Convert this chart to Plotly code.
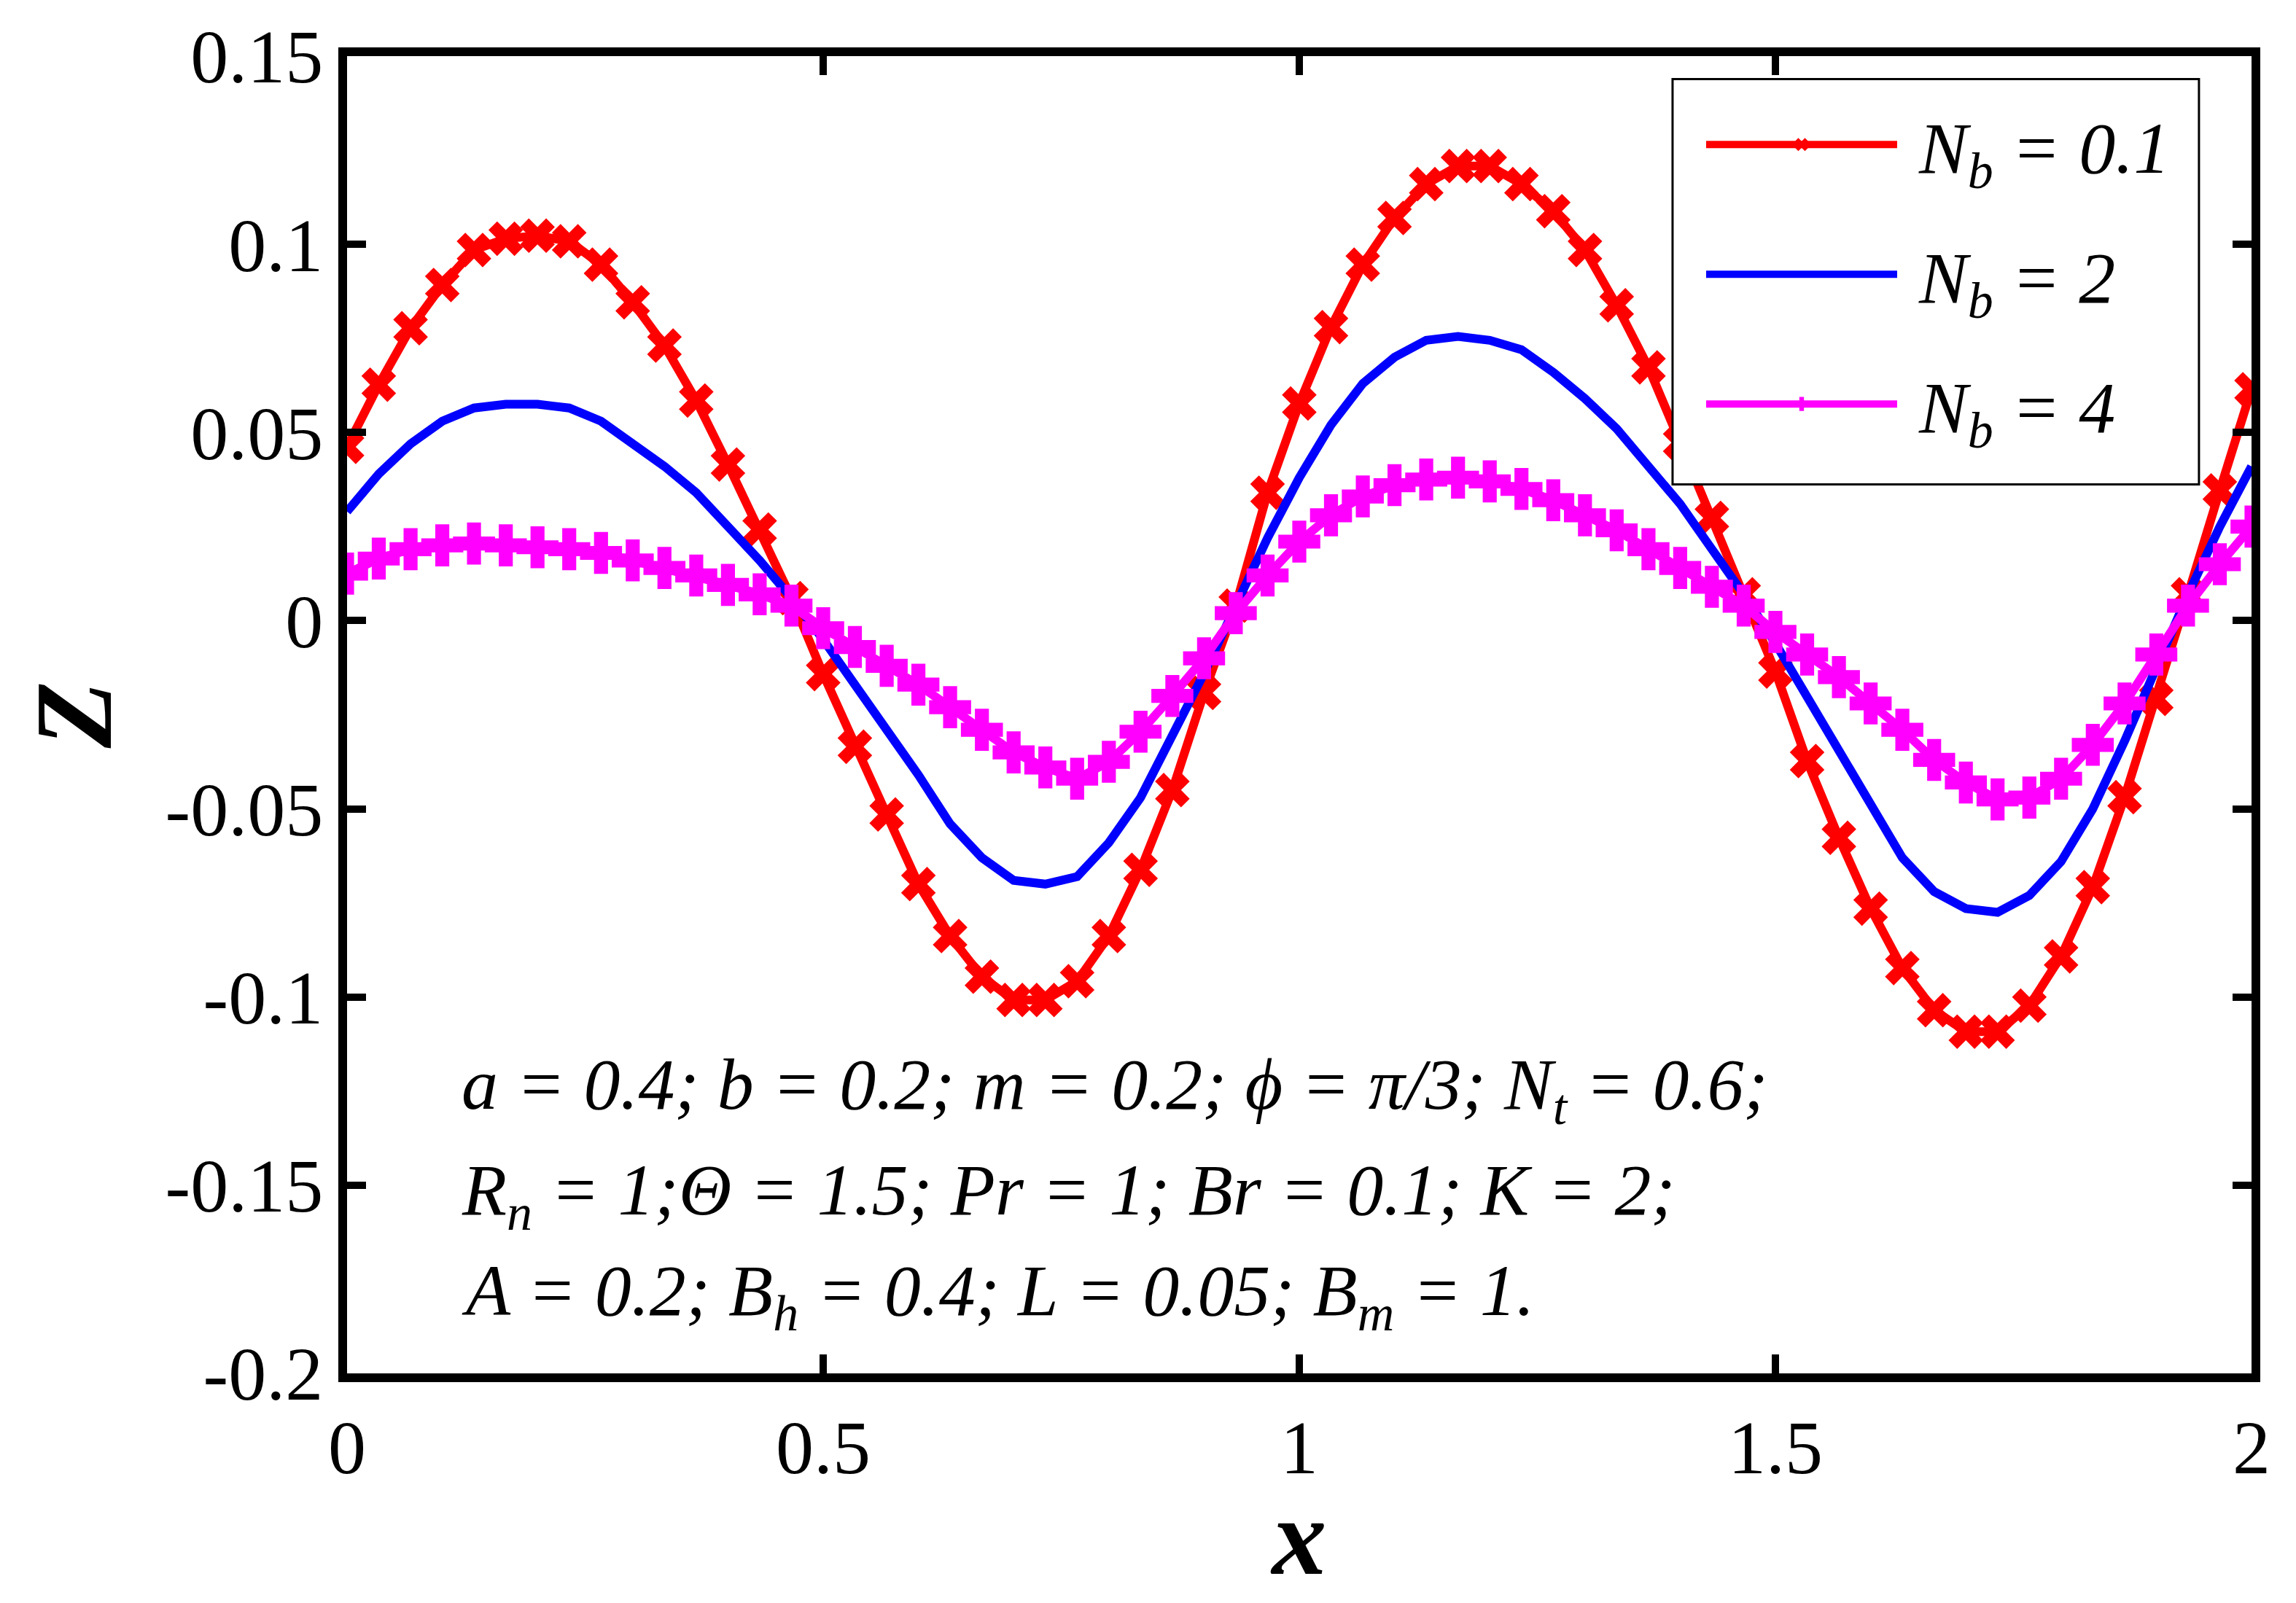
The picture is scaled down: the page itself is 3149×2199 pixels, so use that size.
import plotly.graph_objects as go

# x positions of the computed points (step 1/30)
x_vals = [0.0, 0.0333, 0.0667, 0.1, 0.1333, 0.1667, 0.2, 0.2333, 0.2667, 0.3,
          0.3333, 0.3667, 0.4, 0.4333, 0.4667, 0.5, 0.5333, 0.5667, 0.6, 0.6333,
          0.6667, 0.7, 0.7333, 0.7667, 0.8, 0.8333, 0.8667, 0.9, 0.9333, 0.9667,
          1.0, 1.0333, 1.0667, 1.1, 1.1333, 1.1667, 1.2, 1.2333, 1.2667, 1.3,
          1.3333, 1.3667, 1.4, 1.4333, 1.4667, 1.5, 1.5333, 1.5667, 1.6, 1.6333,
          1.6667, 1.7, 1.7333, 1.7667, 1.8, 1.8333, 1.8667, 1.9, 1.9333, 1.9667,
          2.0]

z_nb01 = [0.0462, 0.0627, 0.0777, 0.0892, 0.0985, 0.1015, 0.1023, 0.1008, 0.0946, 0.0846,
          0.0731, 0.0585, 0.0415, 0.0242, 0.0060, -0.0142, -0.0335, -0.0515, -0.0700, -0.0838,
          -0.0946, -0.1008, -0.1008, -0.0958, -0.0838, -0.0662, -0.0450, -0.0192, 0.0040, 0.0340,
          0.0577, 0.0780, 0.0946, 0.1070, 0.1160, 0.1208, 0.1208, 0.1160, 0.1088, 0.0985,
          0.0838, 0.0673, 0.0473, 0.0273, 0.0070, -0.0135, -0.0373, -0.0577, -0.0765, -0.0923,
          -0.1035, -0.1092, -0.1092, -0.1023, -0.0892, -0.0708, -0.0469, -0.0208, 0.0070, 0.0346,
          0.0615]

z_nb2 = [0.0290, 0.0390, 0.0470, 0.0530, 0.0565, 0.0575, 0.0575, 0.0565, 0.0530, 0.0470,
         0.0410, 0.0340, 0.0250, 0.0160, 0.0060, -0.0050, -0.0170, -0.0290, -0.0410, -0.0540,
         -0.0630, -0.0690, -0.0700, -0.0680, -0.0590, -0.0470, -0.0310, -0.0140, 0.0040, 0.0220,
         0.0380, 0.0520, 0.0630, 0.0700, 0.0745, 0.0755, 0.0745, 0.0720, 0.0660, 0.0590,
         0.0510, 0.0410, 0.0310, 0.0190, 0.0070, -0.0060, -0.0200, -0.0340, -0.0490, -0.0630,
         -0.0720, -0.0765, -0.0775, -0.0730, -0.0640, -0.0500, -0.0320, -0.0120, 0.0070, 0.0250,
         0.0410]

z_nb4 = [0.0125, 0.0165, 0.0190, 0.0200, 0.0205, 0.0200, 0.0195, 0.0190, 0.0180, 0.0160,
         0.0140, 0.0120, 0.0095, 0.0070, 0.0040, -0.0020, -0.0070, -0.0120, -0.0170, -0.0230,
         -0.0290, -0.0350, -0.0390, -0.0420, -0.0375, -0.0295, -0.0200, -0.0100, 0.0020, 0.0120,
         0.0210, 0.0280, 0.0330, 0.0360, 0.0375, 0.0380, 0.0370, 0.0350, 0.0320, 0.0280,
         0.0240, 0.0190, 0.0140, 0.0090, 0.0040, -0.0030, -0.0090, -0.0150, -0.0220, -0.0290,
         -0.0370, -0.0430, -0.0475, -0.0470, -0.0420, -0.0330, -0.0220, -0.0090, 0.0040, 0.0150,
         0.0250]

legend_names = ["&nbsp;<i>N<sub>b</sub> = 0.1</i>", "&nbsp;<i>N<sub>b</sub> = 2</i>",
                "&nbsp;<i>N<sub>b</sub> = 4</i>"]

param_lines = [
    "<i>a = 0.4; b = 0.2; m = 0.2; ϕ = π/3; N<sub>t</sub> = 0.6;</i>",
    "<i>R<sub>n</sub> = 1;Θ = 1.5; Pr = 1; Br = 0.1; K = 2;</i>",
    "<i>A = 0.2; B<sub>h</sub> = 0.4; L = 0.05; B<sub>m</sub> = 1.</i>",
]
param_y = [-0.1246, -0.1526, -0.1793]

y_ticks = [0.15, 0.1, 0.05, 0, -0.05, -0.1, -0.15, -0.2]
x_ticks = [0, 0.5, 1, 1.5, 2]

FONT = "Liberation Serif"

fig = go.Figure()
fig.add_trace(go.Scatter(x=x_vals, y=z_nb01, name=legend_names[0], mode="lines+markers",
                         line=dict(color="#ff0000", width=12),
                         marker=dict(symbol="x", size=42, color="#ff0000"),
                         legendgroup="a"))
fig.add_trace(go.Scatter(x=x_vals, y=z_nb2, name=legend_names[1], mode="lines",
                         line=dict(color="#0000ff", width=12),
                         legendgroup="b"))
fig.add_trace(go.Scatter(x=x_vals, y=z_nb4, name=legend_names[2], mode="lines+markers",
                         line=dict(color="#ff00ff", width=12),
                         marker=dict(symbol="cross", size=48, color="#ff00ff"),
                         legendgroup="c"))

for txt, yy in zip(param_lines, param_y):
    fig.add_annotation(x=0.119, y=yy, xref="x", yref="y", text=txt, showarrow=False,
                       xanchor="left", yanchor="middle",
                       font=dict(family=FONT, size=100, color="black"))

# legend frame (white box that hides the curves behind it)
fig.add_shape(type="rect", xref="paper", yref="paper",
              x0=0.696, x1=0.9724, y0=0.6749, y1=0.9825,
              line=dict(color="black", width=3), fillcolor="white", layer="above")

axis_common = dict(showgrid=False, zeroline=False, showline=True, linecolor="black",
                   linewidth=12, mirror="ticks", ticks="inside", ticklen=26,
                   tickwidth=10, tickcolor="black", ticklabeloverflow="allow",
                   tickfont=dict(family=FONT, size=104, color="black"))

fig.update_layout(
    width=3133, height=2183,
    margin=dict(l=468, r=53, t=52, b=307),
    paper_bgcolor="white", plot_bgcolor="white",
    showlegend=True,
    legend=dict(x=0.7117, y=0.9725, xanchor="left", yanchor="top",
                bgcolor="rgba(0,0,0,0)", borderwidth=0,
                font=dict(family=FONT, size=100, color="black"),
                itemwidth=262, tracegroupgap=45),
    xaxis=dict(range=[0, 2], tickvals=x_ticks, ticktext=[str(v) for v in x_ticks],
               title=dict(text="<b><i>x</i></b>", font=dict(family=FONT, size=150, color="black"),
                          standoff=28),
               **axis_common),
    yaxis=dict(range=[-0.2, 0.15], tickvals=y_ticks, ticktext=[f"{v:g}" for v in y_ticks],
               title=dict(text="<b><i>Z</i></b>", font=dict(family=FONT, size=150, color="black"),
                          standoff=28),
               **axis_common),
)

fig.write_html("out.html")
